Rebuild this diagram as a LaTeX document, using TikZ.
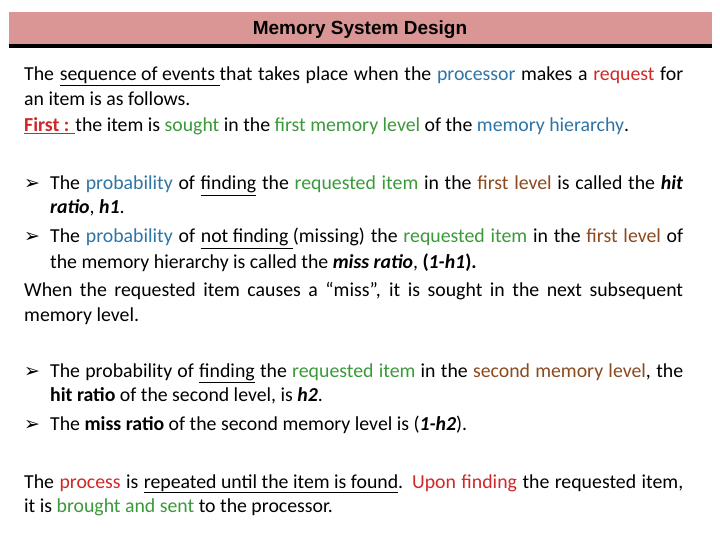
\documentclass[tikz,border=0pt]{standalone}
\usepackage{fontspec}
\setmainfont{Carlito}
\newfontfamily\arialf{Liberation Sans}
\newfontfamily\dvs{DejaVu Sans}
\definecolor{titlebg}{HTML}{D99694}
\definecolor{cblue}{HTML}{2E74A6}
\definecolor{cred}{HTML}{D02828}
\definecolor{cgreen}{HTML}{3A9A3A}
\definecolor{cbrown}{HTML}{8B4A1E}
\newcommand{\B}[1]{\textcolor{cblue}{#1}}
\newcommand{\R}[1]{\textcolor{cred}{#1}}
\newcommand{\G}[1]{\textcolor{cgreen}{#1}}
\newcommand{\N}[1]{\textcolor{cbrown}{#1}}
\newcommand{\jl}[2]{\hbox to #1{#2}}
\newcommand{\bul}{{\dvs\fontsize{19}{19}\selectfont ➢}}
\begin{document}
\begin{tikzpicture}[x=1pt,y=1pt,
  txt/.style={anchor=base west,inner sep=0pt,font=\fontsize{19.8}{22}\selectfont}]
\useasboundingbox (0,0) rectangle (720,-540);
\fill[white] (0,0) rectangle (720,-540);
\fill[titlebg] (9,-12) rectangle (712,-44);
\fill[black] (9,-44) rectangle (712,-48);
\node[font=\arialf\bfseries\fontsize{19}{20}\selectfont] (title) at (360,-30) {Memory System Design};
\node[txt] (l1) at (24,-81) {\jl{659pt}{The \underline{sequence of events }that takes place when the \B{processor} makes a \R{request} for}};
\node[txt] (l2) at (24,-106) {an item is as follows.};
\node[txt] (l3) at (24,-132) {\R{\underline{\textbf{First :} }}the item is \G{sought} in the \G{first memory level} of the \B{memory hierarchy}.};
\node[txt] (b1) at (24,-190) {\bul};
\node[txt] (l4) at (50,-190) {\jl{633pt}{The \B{probability} of \underline{finding} the \G{requested item} in the \N{first level} is called the \textbf{\textit{hit}}}};
\node[txt] (l5) at (50,-214) {\textbf{\textit{ratio}}, \textbf{\textit{h1}}.};
\node[txt] (b2) at (24,-243) {\bul};
\node[txt] (l6) at (50,-243) {\jl{633pt}{The \B{probability} of \underline{not finding }(missing) the \G{requested item} in the \N{first level} of}};
\node[txt] (l7) at (50,-268) {the memory hierarchy is called the \textbf{\textit{miss ratio}}, \textbf{(\textit{1-h1}).}};
\node[txt] (l8) at (24,-296) {\jl{659pt}{When the requested item causes a “miss”, it is sought in the next subsequent}};
\node[txt] (l9) at (24,-321) {memory level.};
\node[txt] (b3) at (24,-377) {\bul};
\node[txt] (l10) at (50,-377) {\jl{633pt}{The probability of \underline{finding} the \G{requested item} in the \N{second memory level}, the}};
\node[txt] (l11) at (50,-401) {\textbf{hit ratio} of the second level, is \textbf{\textit{h2}}.};
\node[txt] (b4) at (24,-430) {\bul};
\node[txt] (l12) at (50,-430) {The \textbf{miss ratio} of the second memory level is (\textbf{\textit{1-h2}}).};
\node[txt] (l13) at (24,-488) {\jl{659pt}{The \R{process} is \underline{repeated until the item is found}. \R{Upon finding} the requested item,}};
\node[txt] (l14) at (24,-512) {it is \G{brought and sent} to the processor.};
\end{tikzpicture}
\end{document}
